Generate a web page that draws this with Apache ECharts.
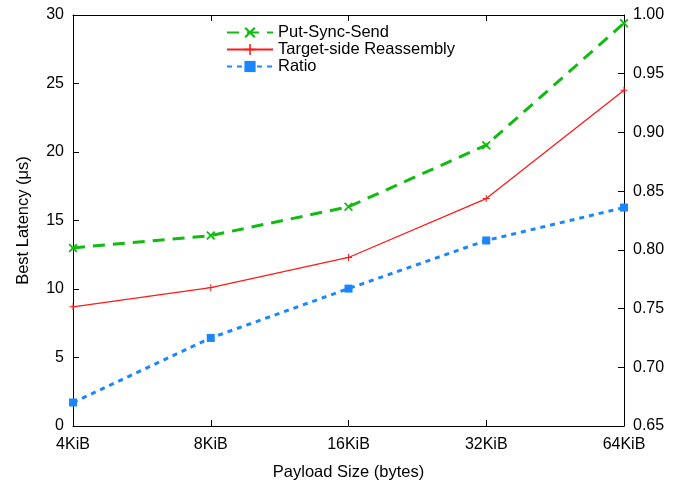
<!DOCTYPE html>
<html><head><meta charset="utf-8">
<script src="https://cdn.jsdelivr.net/npm/echarts@6/dist/echarts.min.js"></script>
<style>html,body{margin:0;padding:0;background:#fff}#c{width:686px;height:487px}</style>
</head><body><div id="c"></div>
<script>
var categories = ['4KiB','8KiB','16KiB','32KiB','64KiB'];
var putSyncSend = [13.0, 13.9, 16.0, 20.5, 29.4];
var targetSide = [8.7, 10.1, 12.3, 16.6, 24.5];
var ratio = [0.670, 0.725, 0.767, 0.808, 0.836];
var leftTicks = [0, 5, 10, 15, 20, 25, 30];
var rightTicks = [0.65, 0.70, 0.75, 0.80, 0.85, 0.90, 0.95, 1.00];

var FONT = 'Liberation Sans';
var FS = 16;
var chart = echarts.init(document.getElementById('c'), null, {renderer:'canvas'});
var xSym = 'path://M0,1.4L1.4,0L5,3.6L8.6,0L10,1.4L6.4,5L10,8.6L8.6,10L5,6.4L1.4,10L0,8.6L3.6,5Z';
var plusSym = 'path://M4.3,0H5.7V4.3H10V5.7H5.7V10H4.3V5.7H0V4.3H4.3Z';
var axisLineStyle = {color:'#000', width:1};
chart.setOption({
  animation:false,
  textStyle:{fontFamily:FONT},
  grid:{left:73, right:62, top:15, bottom:61, containLabel:false},
  legend:{
    orient:'vertical', left:221, top:19, itemWidth:46, itemHeight:14, itemGap:0,
    textStyle:{fontFamily:FONT, fontSize:16.5, color:'#000'},
    data:['Put-Sync-Send','Target-side Reassembly','Ratio']
  },
  xAxis:[{
    type:'category', data:categories, boundaryGap:false,
    name:'Payload Size (bytes)', nameLocation:'middle', nameGap:38,
    nameTextStyle:{fontFamily:FONT, fontSize:16.5, color:'#000'},
    axisLine:{lineStyle:axisLineStyle},
    axisTick:{inside:true, length:6, lineStyle:axisLineStyle},
    axisLabel:{fontFamily:FONT, fontSize:FS, color:'#000', margin:11},
    splitLine:{show:false}
  },{
    type:'category', data:categories, boundaryGap:false, position:'top',
    axisLine:{lineStyle:axisLineStyle},
    axisTick:{inside:true, length:6, lineStyle:axisLineStyle},
    axisLabel:{show:false}, splitLine:{show:false}
  }],
  yAxis:[{
    type:'value', min:0, max:30, interval:5,
    name:'Best Latency (\u03bcs)', nameLocation:'middle', nameGap:41, nameRotate:90,
    nameTextStyle:{fontFamily:FONT, fontSize:16.5, color:'#000'},
    axisLine:{show:true, lineStyle:axisLineStyle},
    axisTick:{show:true, inside:true, length:6, lineStyle:axisLineStyle},
    axisLabel:{fontFamily:FONT, fontSize:FS, color:'#000', margin:9},
    splitLine:{show:false}
  },{
    type:'value', min:0.65, max:1.0, interval:0.05, position:'right',
    axisLine:{show:true, lineStyle:axisLineStyle},
    axisTick:{show:true, inside:true, length:6, lineStyle:axisLineStyle},
    axisLabel:{fontFamily:FONT, fontSize:FS, color:'#000', margin:9,
      formatter:function(v){return v.toFixed(2);}},
    splitLine:{show:false}
  }],
  series:[{
    name:'Put-Sync-Send', type:'line', data:putSyncSend, xAxisIndex:0, yAxisIndex:0,
    symbol:xSym, symbolSize:9, showAllSymbol:true,
    itemStyle:{color:'#12bb12'},
    lineStyle:{color:'#12bb12', width:3, type:[12,8]}
  },{
    name:'Target-side Reassembly', type:'line', data:targetSide, xAxisIndex:0, yAxisIndex:0,
    symbol:plusSym, symbolSize:7,
    itemStyle:{color:'#ff1a1a'},
    lineStyle:{color:'#ff1a1a', width:1.3}
  },{
    name:'Ratio', type:'line', data:ratio, xAxisIndex:0, yAxisIndex:1,
    symbol:'rect', symbolSize:8,
    itemStyle:{color:'#1a86ff'},
    lineStyle:{color:'#1a86ff', width:3, type:[5,5]}
  }]
});
</script></body></html>
